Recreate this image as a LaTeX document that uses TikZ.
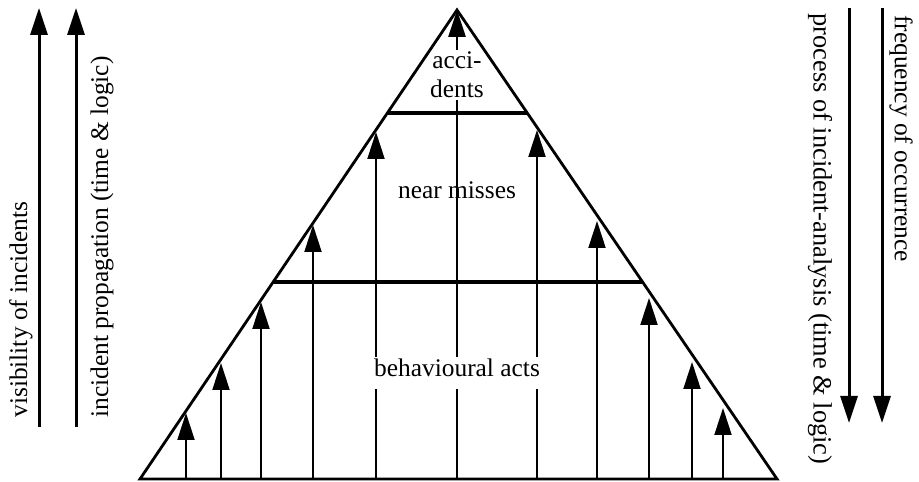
\documentclass[tikz,border=0pt]{standalone}
\usepackage{fontspec}
\setmainfont{Liberation Serif}
\usetikzlibrary{arrows.meta, calc}

\begin{document}
\begin{tikzpicture}[x=0.5pt, y=0.5pt, >={Triangle[length=13.5pt, width=8.5pt]},
    font=\fontsize{12.7}{14.5}\selectfont]
    \useasboundingbox (0,0) rectangle (919,481);
    % Pyramid corners
    \coordinate (bl) at (140,2);
    \coordinate (br) at (777,2);
    \coordinate (bc) at (457,2);
    \coordinate (apex) at (457,471);
    % Arrows up to the sides
    \foreach \x/\y in {186/68, 221/118, 261/179, 313/256, 376/349, 537/351, 597/260, 649/183, 692/119, 723/73} {
        \coordinate (tip\x) at (\x,\y);
        \draw[->, line width=1pt] (tip\x |- bl) -- (tip\x);
    }
    % Levels
    \node[fill=white, inner xsep=0pt, inner ysep=1pt, text depth=5pt, anchor=base] (acts) at (457,104) {behavioural acts};
    \node[anchor=base] (misses) at (457,282) {near misses};
    \node[align=center, inner sep=1pt] (acc) at (457,406) {acci-\\dents};
    % Middle arrow
    \draw[line width=1.4pt] (bc) -- (acts);
    \draw[line width=1.4pt] (acts) -- (acc);
    \draw[->, line width=1.4pt] (acc) -- (apex);
    % Pyramid
    \draw[line width=1.4pt] (bl) -- (apex) -- (br) -- cycle;
    \draw[line width=2pt] ($(bl)!0.42!(apex)$) -- ($(br)!0.42!(apex)$);
    \draw[line width=2pt] ($(bl)!0.7804!(apex)$) -- ($(br)!0.7804!(apex)$);
    % Side arrows and texts
    \coordinate (visA) at (39,54);
    \coordinate (visB) at (39,473);
    \coordinate (propA) at (76,54);
    \coordinate (propB) at (76,473);
    \coordinate (procA) at (849,473);
    \coordinate (procB) at (849,58);
    \coordinate (freqA) at (882,473);
    \coordinate (freqB) at (882,58);
    \draw[->, line width=1.5pt] (visA) -- (visB);
    \draw[->, line width=1.5pt] (propA) -- (propB);
    \draw[->, line width=1.5pt] (procA) -- (procB);
    \draw[->, line width=1.5pt] (freqA) -- (freqB);
    \node[rotate=90, anchor=west, inner sep=0pt] (vis) at (21,63) {visibility of incidents};
    \node[rotate=90, anchor=west, inner sep=0pt] (prop) at (102,63) {incident propagation (time \& logic)};
    \node[rotate=-90, anchor=west, inner sep=0pt] (freq) at (901,466) {frequency of occurrence};
    \node[rotate=-90, anchor=west, inner sep=0pt, font=\fontsize{13.2}{15}\selectfont] (proc) at (820,468) {process of incident-analysis (time \& logic)};
\end{tikzpicture}
\end{document}
